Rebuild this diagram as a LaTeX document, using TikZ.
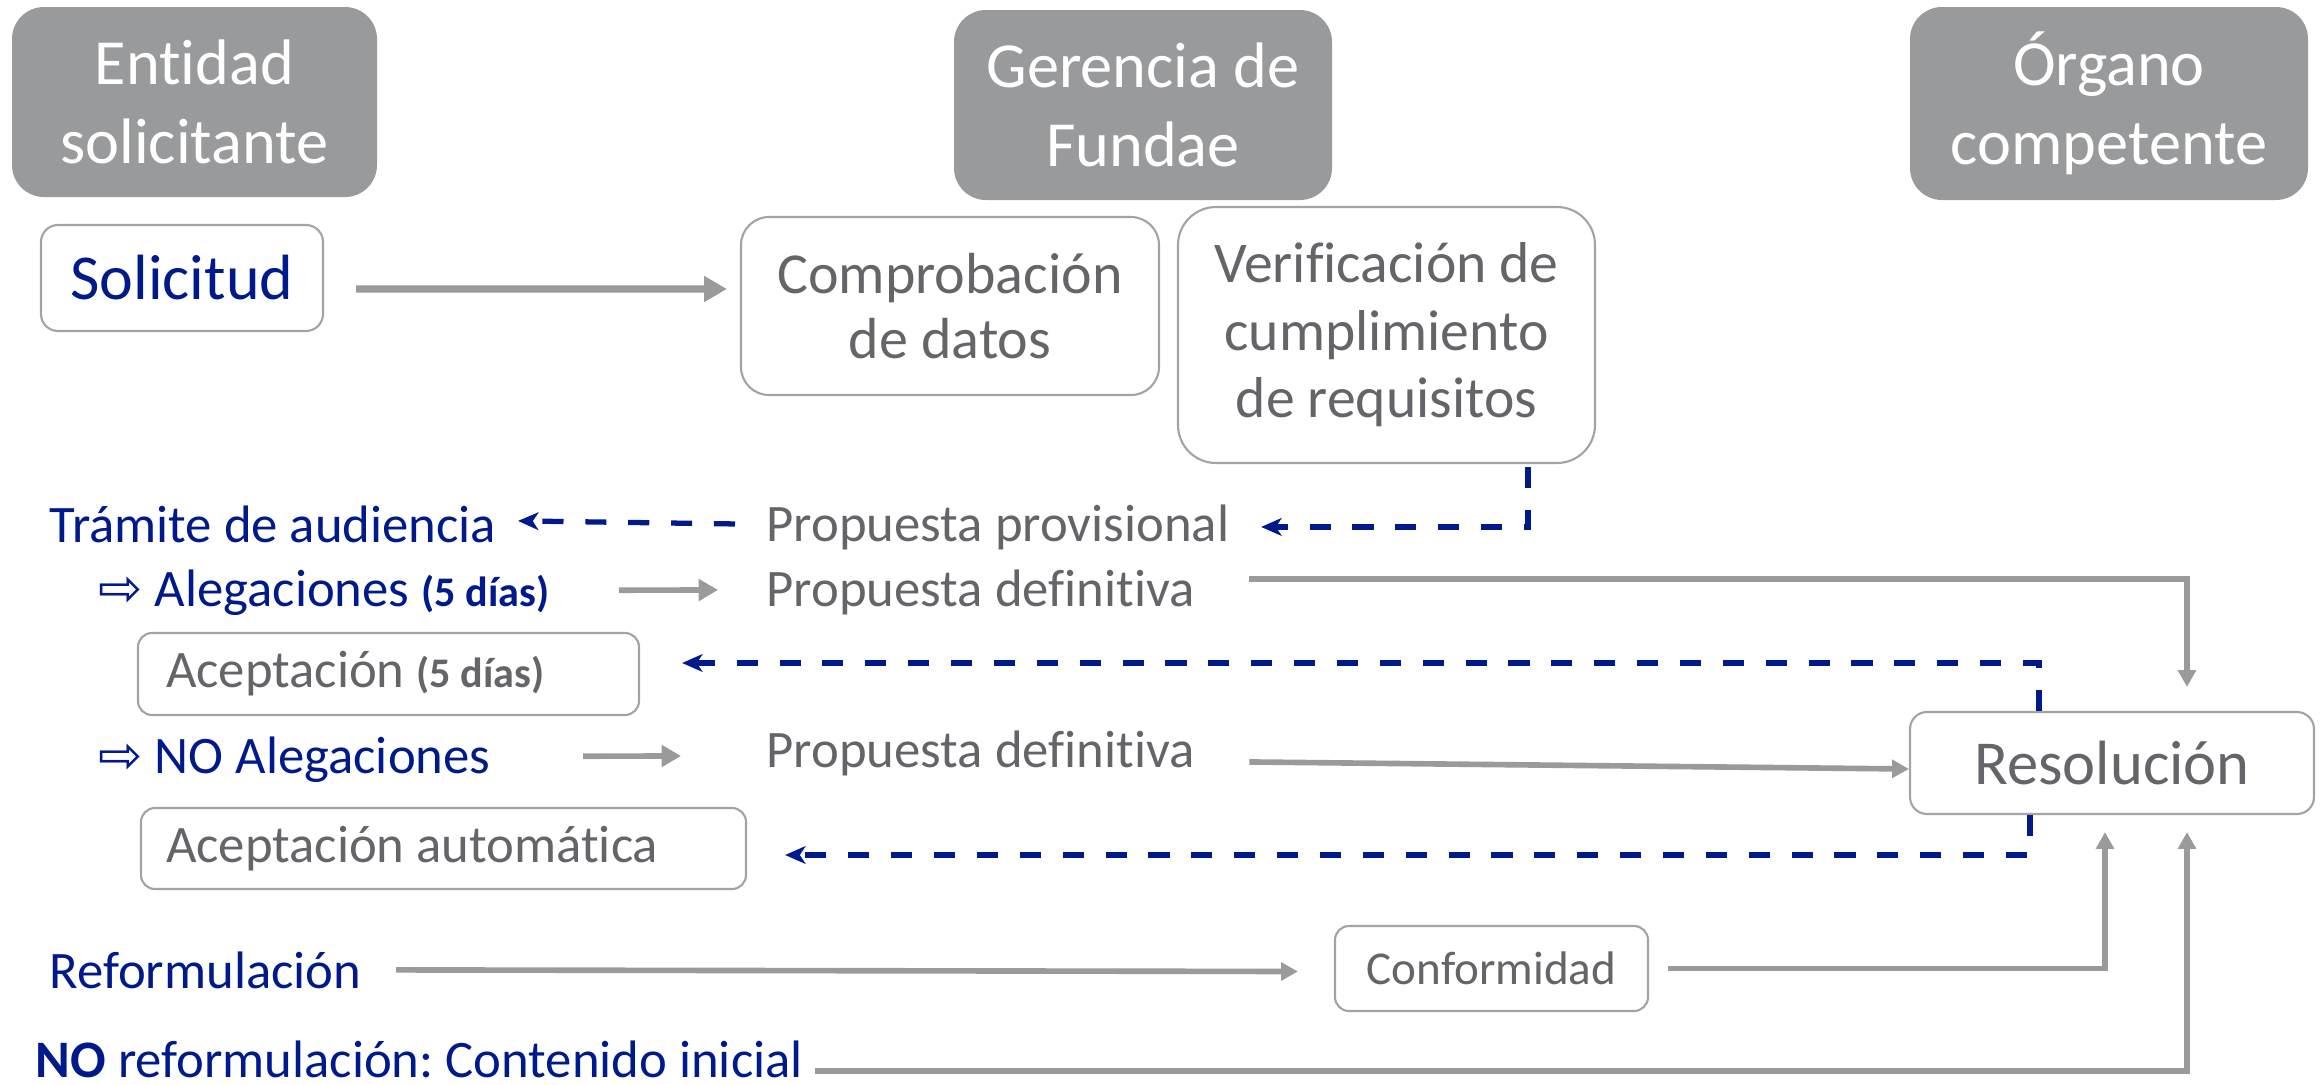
\documentclass[tikz,border=0pt]{standalone}
\usepackage{fontspec}
\setmainfont{Carlito}[Ligatures=NoCommon]
\newfontfamily\symfont{DejaVu Sans}
\usepackage{xcolor}
\usepackage{tikz}
\usetikzlibrary{positioning, arrows.meta, calc}
\frenchspacing

\definecolor{hdrgray}{HTML}{999A9C}
\definecolor{txtgray}{HTML}{646569}
\definecolor{navyblue}{HTML}{001A8C}
\definecolor{boxgray}{HTML}{A3A3A3}
\definecolor{linegray}{HTML}{9A9A9C}

\tikzset{
  header/.style={fill=hdrgray, rounded corners=0.32cm, text=white, align=center,
    font=\fontsize{18.3}{22.3}\selectfont, inner sep=0},
  procbox/.style={draw=boxgray, line width=0.6pt, fill=white, text=txtgray, align=center, inner sep=0},
  lbl/.style={anchor=base west, inner sep=0, font=\fontsize{15}{18}\selectfont},
  grayline/.style={draw=linegray, line width=1.6pt, -{Triangle[length=4.8pt, width=5pt]}},
  navyline/.style={draw=navyblue, line width=1.5pt, dash pattern=on 6pt off 6.2pt,
    -{Stealth[length=5.8pt, width=5pt, inset=1.6pt]}},
}
\newcommand{\dias}{{\bfseries\fontsize{12}{14}\selectfont (5 días)}}
\newcommand{\hollowarrow}{{\symfont\fontsize{15}{15}\selectfont ⇨}}

\begin{document}
\begin{tikzpicture}
    \useasboundingbox (0,0) rectangle (23.2,-10.85);

    % Headers
    \node[header, minimum width=3.65cm, minimum height=1.9cm] (hEntidad) at (1.945,-1.02) {Entidad\\solicitante};
    \node[header, minimum width=3.78cm, minimum height=1.9cm] (hGerencia) at (11.43,-1.05) {Gerencia de\\Fundae};
    \node[header, minimum width=3.98cm, minimum height=1.93cm] (hOrgano) at (21.09,-1.035) {Órgano\\competente};

    % Process boxes
    \node[procbox, rounded corners=0.17cm, minimum width=2.82cm, minimum height=1.06cm, text=navyblue,
      font=\fontsize{18.2}{22}\selectfont] (solicitud) at (1.82,-2.78) {Solicitud};
    \node[procbox, rounded corners=0.28cm, minimum width=4.18cm, minimum height=1.78cm,
      font=\fontsize{16.5}{18.5}\selectfont] (comprob) at (9.50,-3.06) {Comprobación\\de datos};
    \node[procbox, rounded corners=0.38cm, minimum width=4.17cm, minimum height=2.56cm,
      font=\fontsize{16.4}{19.2}\selectfont] (verif) at (13.865,-3.35) {Verificación de\\cumplimiento\\de requisitos};
    \node[procbox, rounded corners=0.17cm, minimum width=4.04cm, minimum height=1.02cm,
      font=\fontsize{17.8}{21}\selectfont] (resol) at (21.12,-7.63) {Resolución};
    \node[procbox, rounded corners=0.14cm, minimum width=3.13cm, minimum height=0.85cm,
      font=\fontsize{13.4}{16}\selectfont] (conform) at (14.915,-9.685) {Conformidad};
    \node[procbox, rounded corners=0.14cm, inner xsep=0.28cm, text width=4.45cm, align=flush left, minimum height=0.82cm,
      font=\fontsize{15}{18}\selectfont] (acep5) at (3.885,-6.74) {Aceptación \dias};
    \node[procbox, rounded corners=0.14cm, inner xsep=0.25cm, text width=5.55cm, align=flush left, minimum height=0.81cm,
      font=\fontsize{15}{18}\selectfont] (acepAuto) at (4.435,-8.485) {Aceptación automática};

    % Free text
    \node[lbl, text=navyblue] (tramite) at (0.49,-5.42) {Trámite de audiencia};
    \node[lbl, text=navyblue] (aleg) at (0.98,-6.06) {\hollowarrow\ Alegaciones \dias};
    \node[lbl, text=navyblue] (noAleg) at (0.98,-7.73) {\hollowarrow\ NO Alegaciones};
    \node[lbl, text=txtgray] (propProv) at (7.66,-5.41) {Propuesta provisional};
    \node[lbl, text=txtgray] (propDef1) at (7.66,-6.06) {Propuesta definitiva};
    \node[lbl, text=txtgray] (propDef2) at (7.66,-7.67) {Propuesta definitiva};
    \node[lbl, text=navyblue] (reform) at (0.49,-9.88) {Reformulación};
    \node[lbl, text=navyblue] (noReform) at (0.35,-10.77) {\textbf{NO} reformulación: Contenido inicial};

    % Solid arrows
    \draw[grayline, line width=2pt, -{Triangle[length=6.5pt, width=7pt]}]
      ($(solicitud.east)+(0.32,-0.11)$) -- ($(comprob.west)+(-0.13,0.17)$);
    \draw[grayline, -{Triangle[length=5.5pt, width=6pt]}]
      ($(aleg.east)+(0.69,0.02)$) -- ($(propDef1.west)+(-0.48,0.02)$);
    \draw[grayline] ($(propDef1.east)+(0.54,0.13)$) -| ($(resol.north)+(0.75,0.24)$);
    \draw[grayline, -{Triangle[length=5.5pt, width=6pt]}]
      ($(noAleg.east)+(0.92,0.03)$) -- ($(propDef2.west)+(-0.85,-0.03)$);
    \draw[grayline] ($(propDef2.east)+(0.54,-0.09)$) -- ($(resol.west)+(0,-0.06)$);
    \draw[grayline] ($(reform.east)+(0.34,0)$) -- ($(conform.west)+(-0.36,-0.03)$);
    \draw[grayline] ($(conform.east)+(0.19,0)$) -| ($(resol.south)+(-0.07,-0.17)$);
    \draw[grayline] ($(noReform.east)+(0.11,-0.12)$) -| ($(resol.south)+(0.75,-0.17)$);

    % Dashed return arrows
    \draw[navyline] ($(verif.south)+(1.415,-0.03)$) |- ($(propProv.east)+(0.31,0)$);
    \draw[navyline] ($(propProv.west)+(-0.31,0.03)$) -- ($(tramite.east)+(0.21,0.03)$);
    \draw[navyline] ($(resol.north)+(-0.73,0)$) |- ($(acep5.east)+(0.42,0.11)$);
    \draw[navyline] ($(resol.south)+(-0.82,0)$) |- ($(acepAuto.east)+(0.38,-0.065)$);

\end{tikzpicture}
\end{document}
